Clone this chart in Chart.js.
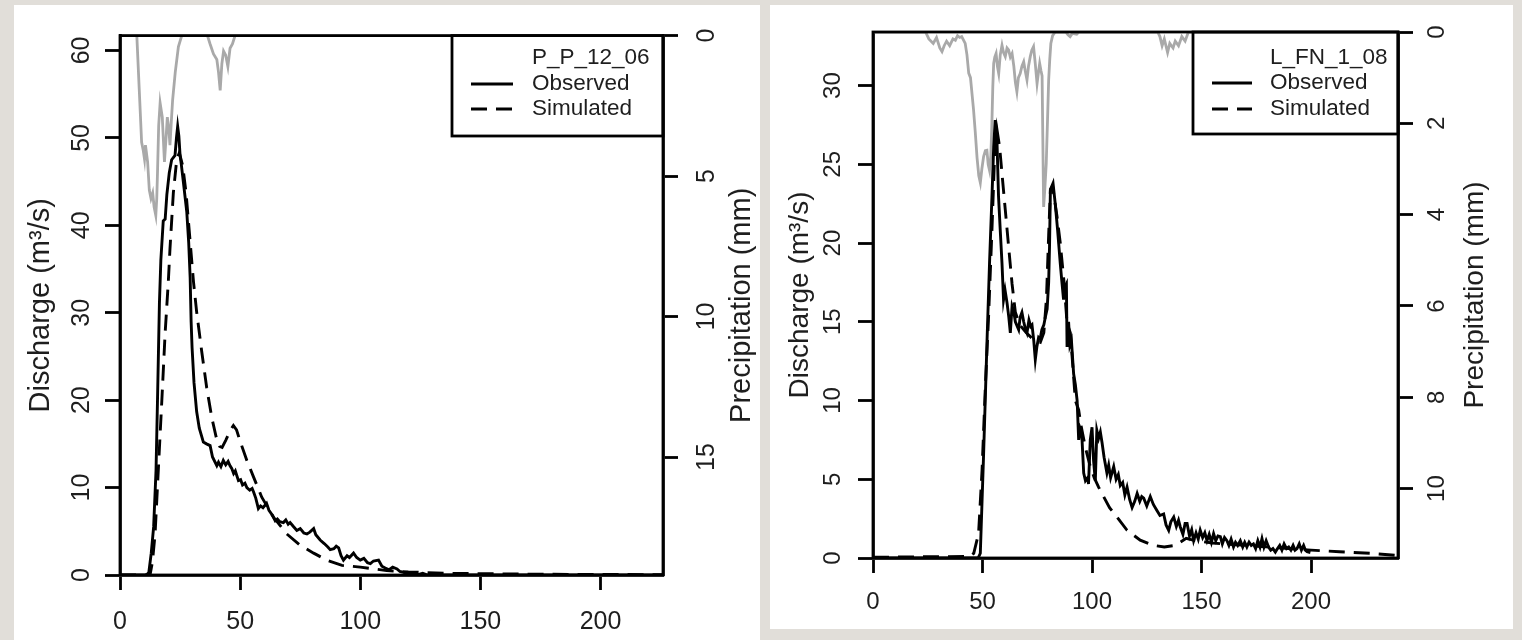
<!DOCTYPE html>
<html>
<head>
<meta charset="utf-8">
<script src="https://cdn.jsdelivr.net/npm/chart.js@4.4.1/dist/chart.umd.min.js"></script>
<style>
html,body{margin:0;padding:0;background:#e1ded9;width:1522px;height:640px;overflow:hidden;}
.panel{position:absolute;background:#ffffff;}
#p1{left:14px;top:5px;width:746px;height:635px;}
#p2{left:770px;top:5px;width:743px;height:624px;}
canvas{display:block;}
</style>
</head>
<body>
<div class="panel" id="p1"><canvas id="c1" width="746" height="635"></canvas></div>
<div class="panel" id="p2"><canvas id="c2" width="743" height="624"></canvas></div>
<script>
// ---------------- DATA: left panel (P_P_12_06) ----------------
const ppLegend = ['P_P_12_06', 'Observed', 'Simulated'];
const ppXTicks = [0, 50, 100, 150, 200];
const ppQTicks = [0, 10, 20, 30, 40, 50, 60];
const ppPTicks = [0, 5, 10, 15];

const ppObsT = [0, 11, 12, 13, 14, 15, 15.6, 16.4, 17, 18, 18.8, 19.5, 20.5, 21.5, 22.9, 23.5, 24, 24.5, 25, 25.5, 26.4, 27.8, 28.6, 29.2, 29.6, 30, 30.8, 31.9, 33, 34.7, 36, 37.5, 38.5, 40.3, 41, 42, 43, 44, 45, 45.8, 46.5, 47.3, 48, 49.3, 50.2, 51, 52, 52.8, 54, 55, 55.6, 56.5, 57.6, 58.5, 59.5, 61, 62, 63.5, 64.6, 65.5, 66.5, 68, 69, 70, 70.8, 72, 73.6, 75, 76.5, 77.8, 79, 80.6, 81.5, 83.3, 85, 86.5, 87.5, 89, 90, 91, 92, 93, 94.5, 95.5, 97.2, 98.5, 100, 101.5, 103, 104.2, 105.5, 107.6, 109, 110.4, 112, 113.5, 115.3, 116.5, 118, 120, 122, 124, 126, 128, 226];
const ppObsQ = [0, 0, 0.3, 2.5, 5.5, 12, 19.9, 31, 36, 40.5, 40.7, 43.5, 46, 47.5, 48, 50, 51.3, 50.2, 48, 47, 44.9, 41.5, 38, 34, 29, 26, 22, 18.7, 16.8, 15.2, 15, 14.8, 13.5, 12.5, 12.9, 12.4, 13.1, 12.6, 13, 12.5, 12.2, 11.6, 11.9, 10.8, 10.9, 10.3, 10.5, 10, 9.7, 9.9, 9.5, 8.8, 7.6, 7.9, 7.7, 8.2, 7.4, 6.8, 6.2, 6.4, 6.1, 6.0, 6.3, 5.8, 6.0, 5.6, 5.1, 5.3, 4.8, 4.7, 4.9, 5.3, 4.6, 4.0, 3.6, 3.2, 2.9, 3.0, 3.3, 3.1, 2.2, 1.7, 2.2, 2.0, 2.5, 2.0, 1.7, 1.9, 1.4, 1.3, 1.6, 1.7, 1.0, 0.8, 0.6, 0.9, 0.7, 0.4, 0.3, 0.1, 0.2, 0.05, 0.2, 0, 0];

const ppSimT = [0, 12.5, 13.5, 14.6, 16, 17.4, 18.75, 20.1, 20.8, 22.2, 23.6, 24.7, 26.1, 27.5, 29.2, 30.6, 31.9, 34, 36.1, 38.2, 40, 41.5, 42.5, 44, 45.8, 47.2, 48.5, 50, 52.8, 55.6, 59, 63.9, 69.4, 75, 80.6, 86.1, 92.4, 100, 105.6, 111, 120, 135, 160, 190, 226];
const ppSimQ = [0, 0, 1.5, 4.7, 12.3, 19.9, 27.5, 33.5, 37.3, 43.7, 47.5, 48.3, 46.8, 43.7, 38.1, 33.5, 30.1, 25.6, 21.4, 18, 15.8, 14.7, 14.6, 15.4, 16.5, 17.1, 16.6, 15.3, 13.1, 11.2, 8.9, 6.6, 4.7, 3.4, 2.5, 1.7, 1.1, 0.9, 0.7, 0.5, 0.35, 0.2, 0.12, 0.07, 0.04];

const ppPrecT = [0, 7, 8, 9, 9.7, 10.2, 10.6, 11.5, 12.2, 12.9, 13.6, 14.2, 14.9, 15.3, 15.6, 16.1, 16.7, 17.6, 18.5, 19.2, 19.7, 20.3, 20.8, 21.4, 21.9, 23, 24.3, 25.7, 36.4, 37.5, 38.9, 40.3, 41, 41.7, 42.4, 43.1, 44, 44.9, 45.8, 46.8, 47.9, 226];
const ppPrecP = [0, 0, 1.9, 3.8, 4.1, 4.4, 3.9, 4.5, 5.5, 5.8, 5.6, 6.1, 6.4, 5.8, 4.9, 3.2, 2.4, 2.9, 4.5, 3.6, 2.9, 3.3, 3.9, 3.0, 2.3, 1.3, 0.4, 0, 0, 0.3, 0.65, 0.85, 1.3, 1.95, 1.0, 0.55, 0.7, 1.1, 0.45, 0.3, 0, 0];

// ---------------- DATA: right panel (L_FN_1_08) ----------------
const lfnLegend = ['L_FN_1_08', 'Observed', 'Simulated'];
const lfnXTicks = [0, 50, 100, 150, 200];
const lfnQTicks = [0, 5, 10, 15, 20, 25, 30];
const lfnPTicks = [0, 2, 4, 6, 8, 10];

const lfnObsT = [0, 48, 49, 50.5, 52, 53.2, 54.3, 55.1, 55.8, 56.5, 57.3, 58.1, 58.9, 59.6, 60.3, 61.2, 62, 62.7, 63.5, 64.2, 65, 66.5, 67.2, 68, 68.8, 69.5, 70.3, 71.2, 72, 72.6, 73.4, 74.1, 74.8, 75.6, 76.3, 77.1, 78, 78.7, 79.5, 80.2, 80.6, 81, 82.2, 83.2, 84.3, 85.5, 86.2, 87, 87.6, 88.3, 88.6, 89.3, 89.9, 90.6, 91.6, 92.4, 93.2, 93.9, 94.6, 95.3, 96.2, 97, 98, 98.4, 99.2, 100, 100.7, 101.5, 102.2, 103, 103.8, 104.6, 105.5, 106.8, 107.6, 108.5, 109.9, 111, 112, 112.9, 114, 115, 116, 117.2, 118.3, 119.5, 120.6, 121.8, 122.7, 123.6, 125, 126.6, 128, 129.7, 131, 132.7, 133.8, 135, 136, 137.3, 138.5, 139.5, 140.3, 141.5, 142.5, 143.4, 144.5, 145.5, 146.4, 147.5, 148.5, 149.4, 150.5, 151.5, 152.5, 153.5, 154.5, 155.5, 156.5, 157.5, 158.6, 159.5, 160.5, 161.6, 162.5, 163.5, 164.6, 165.5, 166.5, 167.7, 168.8, 169.7, 170.7, 171.7, 172.7, 173.7, 174.7, 175.7, 176.7, 177.6, 178.5, 179.5, 180.6, 181.6, 182.6, 183.7, 184.7, 185.7, 186.7, 187.7, 188.8, 189.8, 190.8, 191.8, 192.7, 193.6, 194.6, 195.6, 196.6, 197.4, 198.2, 199.7];
const lfnObsQ = [0, 0, 0.3, 6.6, 13.5, 18.7, 22.9, 26.1, 27.8, 27, 23, 20.8, 18.7, 16.4, 17, 16.2, 15.3, 14.3, 16, 15.7, 15, 14.5, 15.3, 15.6, 15, 14.6, 14.3, 15.1, 14.7, 14.8, 13.8, 12.6, 13.4, 14, 13.9, 14.5, 14.8, 15.3, 15.8, 17.5, 19.8, 23.4, 23.8, 22.5, 20.8, 18.7, 17.6, 16.4, 17.2, 17.4, 13.4, 15, 13.5, 13.8, 11.7, 11, 10, 7.5, 8.2, 7.9, 5.4, 4.9, 5.1, 4.7, 7.5, 8.3, 6.2, 4.9, 8.1, 7.6, 8.0, 7.3, 6.4, 5.4, 5.9, 5.1, 5.8, 5.0, 5.3, 4.6, 4.8, 4.0, 4.5, 3.7, 3.2, 3.6, 4.1, 3.6, 3.9, 3.8, 3.3, 3.9, 3.4, 3.0, 2.7, 2.8, 2.1, 1.76, 2.3, 2.6, 2.0, 2.4, 1.97, 1.5, 2.2, 2.2, 1.4, 1.8, 1.1, 1.6, 1.2, 1.76, 1.3, 1.6, 1.1, 1.5, 1.0, 1.55, 1.1, 1.4, 1.35, 0.9, 1.3, 1.1, 0.8, 1.2, 0.7, 1.0, 0.8, 1.1, 0.7, 1.0, 0.7, 1.0, 0.8, 0.9, 0.6, 1.1, 0.7, 1.23, 0.7, 1.1, 0.7, 0.5, 0.6, 0.38, 0.6, 0.8, 0.5, 0.9, 0.6, 0.7, 0.5, 0.8, 0.5, 0.6, 0.9, 0.5, 0.8, 0.5, 0.4, 0.35];

const lfnSimT = [0, 44, 46, 48.2, 49.8, 51.3, 52.7, 54.3, 55.4, 56.6, 57.8, 58.9, 60.4, 61.9, 63.5, 65, 67, 70, 73, 76.4, 78, 79.2, 80.2, 81, 82, 84, 85.5, 87.3, 88.6, 90.1, 92.4, 93.9, 95, 97, 99, 101, 103, 105.3, 108, 111.4, 116, 122, 128, 133, 138, 143, 147, 155, 170, 185, 200, 213, 227, 240];
const lfnSimQ = [0.05, 0.1, 0.3, 1.55, 5.6, 10.9, 15.1, 20.8, 25.1, 27.2, 26.1, 24.4, 22.1, 19.8, 17.4, 15.6, 14.8, 14.3, 13.9, 13.7, 14.3, 16.5, 20.5, 23.4, 23.6, 21.7, 20, 17.4, 14.9, 14.3, 10, 9.4, 8.4, 7.0, 5.9, 5.1, 4.5, 3.9, 3.2, 2.6, 1.76, 1.13, 0.8, 0.7, 0.8, 1.25, 1.1, 0.95, 0.8, 0.65, 0.5, 0.4, 0.3, 0.15];

const lfnPrecT = [0, 24, 25.5, 27.5, 29, 30.5, 31.5, 32.5, 33.6, 35, 36.5, 37.6, 38.6, 39.6, 40.5, 42.1, 42.9, 43.7, 44.5, 45.9, 46.7, 47.5, 48.3, 49, 49.7, 50.5, 51.3, 52, 52.6, 53.2, 53.8, 54.2, 54.7, 55.1, 55.6, 56.2, 56.8, 57.4, 58.1, 58.9, 59.6, 60.4, 61.2, 61.9, 62.7, 63.5, 64.3, 65, 65.7, 66.4, 67.2, 68, 68.8, 69.5, 70.3, 71, 71.8, 72.5, 73.3, 74.1, 74.9, 75.5, 76.1, 76.7, 77.2, 77.9, 78.5, 79.1, 79.7, 80.2, 80.7, 81.2, 82, 83.2, 88, 89, 90, 91, 93, 94, 130, 131, 132, 133, 134.5, 135.5, 137, 138, 139.5, 141, 142.5, 144, 240];
const lfnPrecP = [0, 0, 0.15, 0.25, 0.12, 0.35, 0.43, 0.3, 0.2, 0.3, 0.15, 0.18, 0.08, 0.12, 0.1, 0.25, 0.5, 0.9, 1.0, 1.7, 2.2, 2.75, 3.15, 3.3, 3.0, 2.73, 2.6, 2.59, 2.9, 3.03, 2.7, 2.15, 1.2, 0.69, 0.55, 0.47, 0.75, 0.91, 0.5, 0.29, 0.45, 0.54, 0.35, 0.39, 0.55, 0.47, 0.75, 1.1, 1.31, 1.0, 0.91, 0.75, 0.65, 0.85, 1.05, 0.75, 0.54, 0.4, 0.32, 0.7, 1.13, 0.9, 0.69, 0.85, 0.96, 3.83, 3.4, 2.88, 1.9, 1.05, 0.6, 0.25, 0.08, 0, 0, 0.06, 0.1, 0.03, 0.05, 0, 0, 0.1, 0.3, 0.15, 0.45, 0.25, 0.35, 0.2, 0.3, 0.1, 0.2, 0, 0];

// ---------------- rendering ----------------
Chart.defaults.font.family = "'Liberation Sans', Arial, sans-serif";
const TXT = '#1e1e1e';
const AXW = 2.8;

function pts(xs, ys) { return xs.map((x, i) => ({ x: x, y: ys[i] })); }

const framePlugin = {
  id: 'frame',
  afterDraw(chart) {
    const { ctx, chartArea: a } = chart;
    ctx.save();
    ctx.strokeStyle = '#000';
    ctx.lineWidth = AXW;
    ctx.strokeRect(a.left, a.top, a.right - a.left, a.bottom - a.top);
    ctx.restore();
  }
};

const rightTitlePlugin = {
  id: 'rightTitle',
  afterDraw(chart, args, o) {
    const { ctx, chartArea: a } = chart;
    ctx.save();
    ctx.translate(o.x, (a.top + a.bottom) / 2);
    ctx.rotate(-Math.PI / 2);
    ctx.font = o.size + "px 'Liberation Sans', Arial, sans-serif";
    ctx.fillStyle = TXT;
    ctx.textAlign = 'center';
    ctx.textBaseline = 'alphabetic';
    ctx.fillText(o.text, 0, 0);
    ctx.restore();
  }
};

const boxLegendPlugin = {
  id: 'boxLegend',
  afterDatasetsDraw(chart, args, o) {
    const { ctx, chartArea: a } = chart;
    ctx.save();
    ctx.fillStyle = '#fff';
    ctx.fillRect(o.left, a.top, a.right - o.left, o.bottom - a.top);
    ctx.strokeStyle = '#000';
    ctx.lineWidth = AXW;
    ctx.strokeRect(o.left, a.top, a.right - o.left, o.bottom - a.top);
    ctx.font = o.size + "px 'Liberation Sans', Arial, sans-serif";
    ctx.textAlign = 'left';
    ctx.textBaseline = 'middle';
    o.labels.forEach((lab, i) => {
      const y = o.rows[i];
      ctx.fillStyle = TXT;
      ctx.fillText(lab, o.textX, y);
      if (i > 0) {
        const ds = chart.data.datasets[i - 1];
        ctx.beginPath();
        ctx.setLineDash(ds.borderDash || []);
        ctx.strokeStyle = ds.borderColor;
        ctx.lineWidth = ds.borderWidth;
        ctx.moveTo(o.lineX0, y);
        ctx.lineTo(o.lineX1, y);
        ctx.stroke();
      }
    });
    ctx.restore();
  }
};

function makeChart(id, d, L) {
  const tickFont = { size: L.tickSize };
  const grid = { drawOnChartArea: false, drawTicks: true, tickLength: L.tickLen, tickWidth: AXW, tickColor: '#000' };
  const border = { display: true, color: '#000', width: AXW };
  return new Chart(document.getElementById(id), {
    type: 'line',
    data: {
      datasets: [
        { label: d.legend[1], data: pts(d.obsT, d.obsQ), yAxisID: 'y', borderColor: '#000', borderWidth: 2.9, pointRadius: 0, tension: 0, fill: false },
        { label: d.legend[2], data: pts(d.simT, d.simQ), yAxisID: 'y', borderColor: '#000', borderWidth: 2.9, borderDash: [16, 9], pointRadius: 0, tension: 0, fill: false },
        { label: 'Precipitation', data: pts(d.precT, d.precP), yAxisID: 'y2', borderColor: '#a9a9a9', borderWidth: 2.8, pointRadius: 0, tension: 0, fill: false }
      ]
    },
    options: {
      responsive: false,
      animation: false,
      devicePixelRatio: 1,
      layout: { padding: { top: L.top, left: 0, right: 0, bottom: 0 } },
      plugins: {
        legend: { display: false },
        tooltip: { enabled: false },
        rightTitle: { text: 'Precipitation (mm)', x: L.rTitleX, size: L.titleSize },
        boxLegend: { labels: d.legend, left: L.legLeft, bottom: L.legBottom, rows: L.legRows, textX: L.legTextX, lineX0: L.legLine0, lineX1: L.legLine1, size: L.legSize }
      },
      scales: {
        x: {
          type: 'linear', position: 'bottom', min: 0, max: d.xMax,
          afterBuildTicks: s => { s.ticks = d.xTicks.map(v => ({ value: v })); },
          afterFit: s => { s.height = L.xH; },
          grid: grid, border: border,
          ticks: { font: tickFont, color: TXT, padding: L.xPad, maxRotation: 0, autoSkip: false }
        },
        y: {
          type: 'linear', position: 'left', min: 0, max: d.qMax,
          afterBuildTicks: s => { s.ticks = d.qTicks.map(v => ({ value: v })); },
          afterFit: s => { s.width = L.yW; },
          grid: grid, border: border,
          ticks: { font: tickFont, color: TXT, padding: L.yPad, minRotation: 90, maxRotation: 90, crossAlign: 'center', autoSkip: false },
          title: { display: true, text: 'Discharge (m³/s)', color: TXT, font: { size: L.titleSize }, padding: { top: L.lTitlePad, bottom: 0 } }
        },
        y2: {
          type: 'linear', position: 'right', reverse: true, min: 0, max: d.pMax,
          afterBuildTicks: s => { s.ticks = d.pTicks.map(v => ({ value: v })); },
          afterFit: s => { s.width = L.y2W; },
          grid: grid, border: border,
          ticks: { font: tickFont, color: TXT, padding: L.y2Pad, minRotation: 90, maxRotation: 90, crossAlign: 'center', autoSkip: false }
        }
      }
    },
    plugins: [boxLegendPlugin, framePlugin, rightTitlePlugin]
  });
}

makeChart('c1', {
  legend: ppLegend, xTicks: ppXTicks, qTicks: ppQTicks, pTicks: ppPTicks,
  obsT: ppObsT, obsQ: ppObsQ, simT: ppSimT, simQ: ppSimQ, precT: ppPrecT, precP: ppPrecP,
  xMax: 226, qMax: 61.7, pMax: 19.2
}, {
  top: 27, xH: 65, yW: 106, y2W: 97, tickLen: 15, tickSize: 25, titleSize: 29,
  xPad: 16.7, yPad: 8.6, y2Pad: 15.6, lTitlePad: 9.5, rTitleX: 736,
  legLeft: 438, legBottom: 131, legRows: [53, 79, 104], legTextX: 518, legLine0: 457, legLine1: 499, legSize: 22.5
});

makeChart('c2', {
  legend: lfnLegend, xTicks: lfnXTicks, qTicks: lfnQTicks, pTicks: lfnPTicks,
  obsT: lfnObsT, obsQ: lfnObsQ, simT: lfnSimT, simQ: lfnSimQ, precT: lfnPrecT, precP: lfnPrecP,
  xMax: 239.7, qMax: 33.4, pMax: 11.52
}, {
  top: 27, xH: 71, yW: 103, y2W: 115, tickLen: 15, tickSize: 24, titleSize: 28,
  xPad: 14.9, yPad: 10.9, y2Pad: 11.5, lTitlePad: 13.5, rTitleX: 713,
  legLeft: 423, legBottom: 129, legRows: [53, 78, 104], legTextX: 500, legLine0: 442, legLine1: 482, legSize: 22.5
});
</script>
</body>
</html>
